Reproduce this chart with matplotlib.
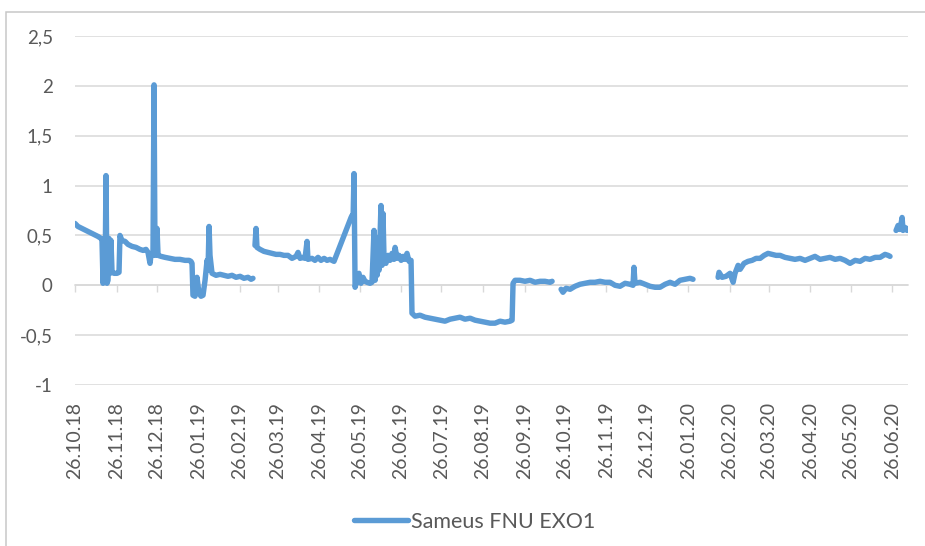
import numpy as np
import pandas as pd
import matplotlib
matplotlib.use("Agg")
import matplotlib.pyplot as plt
from matplotlib.patches import Rectangle
from matplotlib.ticker import FuncFormatter
import matplotlib.dates as mdates

plt.rcParams['font.family'] = ['Lato', 'DejaVu Sans']

# ---------------- data ----------------
series_name = "Sameus FNU EXO1"
first_date = "2018-10-26"
# days after first_date; NaN values mark breaks in the record
obs_day = [
    0, 2.2, 5.2, 8.2, 11.2, 14.2, 17.1, 19.4, 20.1, 20.9, 21.6, 22.4, 23.1, 23.8, 24.6, 25.3,
    26.1, 26.8, 27.6, 29.1, 31.3, 32.8, 33.5, 35.0, 37.3, 39.5, 42.5, 45.5, 48.4, 50.7, 52.9,
    54.4, 55.9, 56.6, 58.1, 58.9, 59.6, 61.1, 61.9, 64.1, 67.1, 70.8, 74.5, 78.2, 82.0, 85.0,
    86.4, 87.2, 87.9, 89.4, 90.9, 92.4, 93.9, 95.4, 96.9, 98.4, 99.1, 99.9, 100.6, 102.1,
    105.1, 108.1, 111.0, 114.0, 117.0, 120.0, 123.0, 125.9, 128.9, 131.2, 132.6, 133.4,
    134.1, 134.9, 135.6, 137.9, 140.8, 143.8, 146.8, 149.8, 152.8, 155.7, 158.7, 161.7, 164.7,
    166.2, 167.7, 169.9, 171.4, 172.9, 173.6, 176.6, 178.8, 181.1, 183.3, 185.6, 187.8, 190.0,
    193.0, 205.7, 206.4, 207.2, 207.9, 208.7, 210.2, 211.6, 213.1, 214.6, 216.1, 217.6, 219.8,
    221.3, 222.8, 223.6, 224.3, 225.1, 225.8, 226.5, 228.0, 228.8, 229.5, 230.3, 231.7, 233.2,
    234.7, 236.2, 237.7, 238.5, 240.0, 241.5, 243.0, 244.5, 245.9, 247.4, 248.9, 250.4, 251.1,
    253.4, 257.1, 260.8, 264.5, 268.3, 272.0, 275.7, 279.5, 283.2, 286.9, 290.6, 294.4, 298.1,
    301.8, 305.5, 309.3, 313.0, 316.7, 320.4, 324.2, 325.7, 326.4, 327.9, 331.6, 335.3, 339.1,
    342.8, 346.5, 350.2, 354.0, 355.5, 358.8,
    362.2, 363.6, 365.9, 368.9, 372.6, 376.3, 380.1, 383.8, 387.5, 391.2, 395.0, 398.7, 402.4,
    406.1, 409.9, 413.6, 415.8, 416.5, 417.3, 421.0, 424.8, 428.5, 432.2, 435.9, 439.7, 443.4,
    447.1, 450.8, 454.6, 458.3, 460.5, 470.0,
    479.2, 479.9, 482.2, 485.1, 488.1, 490.4, 491.8, 494.1, 495.6, 498.5, 501.5, 504.5, 507.5,
    510.5, 513.5, 516.4, 519.4, 522.4, 525.4, 529.1, 532.8, 536.5, 540.3, 544.0, 547.7, 551.4,
    555.2, 558.9, 562.6, 566.4, 570.1, 573.8, 577.5, 581.3, 585.0, 588.7, 592.4, 596.2, 599.9,
    603.6, 605.9, 607.3, 609.5,
    611.8, 613.3, 614.8, 616.3, 617.0, 618.5, 620.0, 620.7,
]
fnu = [
    0.62, 0.59, 0.57, 0.55, 0.53, 0.51, 0.49, 0.47, 0.46, 0.02, 0.30, 0.05, 1.10, 0.02, 0.05, 0.47,
    0.12, 0.45, 0.13, 0.12, 0.12, 0.13, 0.50, 0.45, 0.44, 0.41, 0.39, 0.38, 0.36, 0.35, 0.36,
    0.33, 0.22, 0.30, 0.30, 2.01, 0.30, 0.57, 0.30, 0.29, 0.28, 0.27, 0.26, 0.26, 0.25, 0.25,
    0.24, 0.22, -0.10, -0.11, 0.08, -0.08, -0.11, -0.10, 0.05, 0.25, 0.15, 0.59, 0.30, 0.12,
    0.10, 0.11, 0.10, 0.09, 0.10, 0.08, 0.09, 0.07, 0.08, 0.06, 0.07, np.nan,
    0.40, 0.57, 0.38, 0.36, 0.34, 0.33, 0.32, 0.31, 0.31, 0.30, 0.30, 0.27, 0.29,
    0.33, 0.27, 0.28, 0.27, 0.44, 0.26, 0.27, 0.25, 0.28, 0.25, 0.27, 0.25, 0.26,
    0.24, 0.68, 0.70, 0.66, 1.12, -0.02, 0.05, 0.12, 0.02, 0.08, 0.04, 0.03, 0.02,
    0.03, 0.55, 0.05, 0.48, 0.10, 0.30, 0.15, 0.80, 0.20, 0.72, 0.25, 0.22, 0.30,
    0.25, 0.32, 0.26, 0.38, 0.27, 0.30, 0.25, 0.29, 0.26, 0.32, 0.24, 0.25, -0.28,
    -0.31, -0.30, -0.32, -0.33, -0.34, -0.35, -0.36, -0.34, -0.33, -0.32, -0.34, -0.33, -0.35,
    -0.36, -0.37, -0.38, -0.38, -0.36, -0.37, -0.36, -0.35, 0.02, 0.05, 0.05, 0.04, 0.05,
    0.03, 0.04, 0.04, 0.03, 0.04, np.nan,
    -0.04, -0.07, -0.03, -0.04, -0.01, 0.01, 0.02, 0.03, 0.03, 0.04, 0.03, 0.03, 0.00,
    -0.01, 0.02, 0.01, 0.00, 0.18, 0.02, 0.03, 0.01, -0.01, -0.02, -0.02, 0.01, 0.03,
    0.01, 0.05, 0.06, 0.07, 0.06, np.nan,
    0.08, 0.13, 0.08, 0.09, 0.12, 0.03, 0.12, 0.20, 0.16, 0.22, 0.24, 0.25, 0.27,
    0.27, 0.30, 0.32, 0.31, 0.30, 0.30, 0.28, 0.27, 0.26, 0.27, 0.25, 0.27, 0.29,
    0.26, 0.27, 0.28, 0.26, 0.27, 0.25, 0.22, 0.25, 0.24, 0.27, 0.26, 0.28, 0.28,
    0.31, 0.30, 0.29, np.nan,
    0.55, 0.60, 0.56, 0.68, 0.55, 0.58, 0.55, 0.57,
]
y_ticks = [-1, -0.5, 0, 0.5, 1, 1.5, 2, 2.5]
tick_first, tick_last = "2018-10-26", "2020-06-26"

# ---------------- styling ----------------
LINE = "#5B9BD5"
TXT = "#595959"
GRID = "#D9D9D9"

dates = pd.Timestamp(first_date) + pd.to_timedelta(obs_day, unit="D")
tick_dates = pd.date_range(tick_first, tick_last, freq=pd.DateOffset(months=1))

W, H = 925, 546
fig = plt.figure(figsize=(W / 100, H / 100), dpi=100)
ax = fig.add_axes([75 / W, 1 - 385 / H, (908 - 75) / W, (385 - 36) / H])

ax.plot(dates, fnu, color=LINE, lw=3.9, solid_joinstyle="round",
        solid_capstyle="round", zorder=5, label=series_name)

ax.set_xlim(dates[0], dates[-1])
ax.set_ylim(min(y_ticks), max(y_ticks))
ax.set_yticks(y_ticks)
ax.yaxis.set_major_formatter(FuncFormatter(lambda v, p: f"{v:g}".replace(".", ",")))
ax.grid(axis="y", color=GRID, lw=1.1, zorder=0)
ax.set_axisbelow(True)
for s in ax.spines.values():
    s.set_visible(False)

ax.set_xticks(tick_dates)
ax.xaxis.set_major_formatter(mdates.DateFormatter("%d.%m.%y"))
ax.tick_params(axis="x", length=0, pad=12, labelsize=14, labelcolor=TXT, rotation=90)
ax.tick_params(axis="y", length=0, pad=16, labelsize=13.5, labelcolor=TXT)
for lab in ax.get_xticklabels():
    lab.set_va("top")

# horizontal axis line drawn at y = 0
sec = ax.secondary_xaxis(0, transform=ax.transData)
sec.set_xticks(tick_dates)
sec.tick_params(axis="x", direction="out", length=5, width=1, color=GRID, labelbottom=False)
sec.spines["bottom"].set_color(GRID)
sec.spines["bottom"].set_linewidth(1.1)
for k in ("top", "left", "right"):
    sec.spines[k].set_visible(False)

leg = ax.legend(loc="center", bbox_to_anchor=(475 / W, 1 - 522 / H),
                bbox_transform=fig.transFigure, frameon=False,
                fontsize=15.5, handlelength=2.5, handletextpad=0.15,
                labelcolor=TXT)

# outer chart border (top and left visible)
fig.add_artist(Rectangle((6 / W, -0.1), 2, 1.1 - 12 / H, transform=fig.transFigure,
                         fill=False, ec="#C8C8C8", lw=1.1))

fig.savefig("out.png", dpi=100)
